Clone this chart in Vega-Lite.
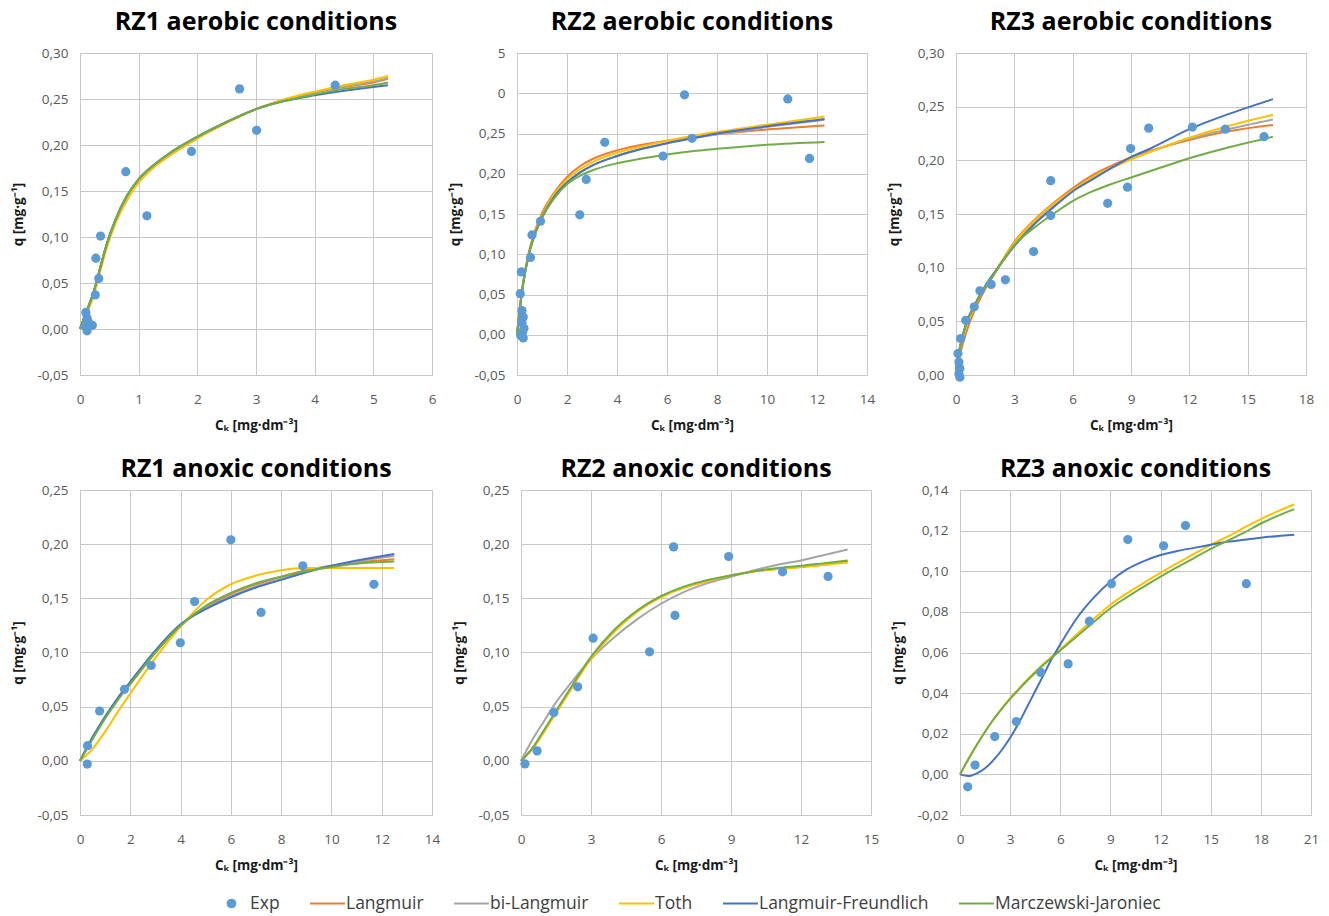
{
"$schema": "https://vega.github.io/schema/vega-lite/v6.json",
"padding": {"left": 10, "top": 9, "right": 5, "bottom": 2},
"background": "white",
"datasets": {
"A1": [
{"s":"Langmuir","x":0,"q":0},{"s":"Langmuir","x":0.1,"q":0.017},{"s":"Langmuir","x":0.25,"q":0.044},{"s":"Langmuir","x":0.35,"q":0.068},{"s":"Langmuir","x":0.45,"q":0.091},{"s":"Langmuir","x":0.6,"q":0.118},{"s":"Langmuir","x":0.8,"q":0.144},{"s":"Langmuir","x":1.0,"q":0.162},{"s":"Langmuir","x":1.25,"q":0.177},{"s":"Langmuir","x":1.5,"q":0.189},{"s":"Langmuir","x":2.0,"q":0.208},{"s":"Langmuir","x":2.5,"q":0.225},{"s":"Langmuir","x":3.0,"q":0.239},{"s":"Langmuir","x":3.5,"q":0.249},{"s":"Langmuir","x":4.0,"q":0.257},{"s":"Langmuir","x":4.5,"q":0.263},{"s":"Langmuir","x":5.0,"q":0.268},{"s":"Langmuir","x":5.25,"q":0.272},
{"s":"bi-Langmuir","x":0,"q":0},{"s":"bi-Langmuir","x":0.1,"q":0.017},{"s":"bi-Langmuir","x":0.25,"q":0.044},{"s":"bi-Langmuir","x":0.35,"q":0.068},{"s":"bi-Langmuir","x":0.45,"q":0.091},{"s":"bi-Langmuir","x":0.6,"q":0.118},{"s":"bi-Langmuir","x":0.8,"q":0.144},{"s":"bi-Langmuir","x":1.0,"q":0.162},{"s":"bi-Langmuir","x":1.25,"q":0.177},{"s":"bi-Langmuir","x":1.5,"q":0.189},{"s":"bi-Langmuir","x":2.0,"q":0.208},{"s":"bi-Langmuir","x":2.5,"q":0.225},{"s":"bi-Langmuir","x":3.0,"q":0.239},{"s":"bi-Langmuir","x":3.5,"q":0.249},{"s":"bi-Langmuir","x":4.0,"q":0.257},{"s":"bi-Langmuir","x":4.5,"q":0.264},{"s":"bi-Langmuir","x":5.0,"q":0.269},{"s":"bi-Langmuir","x":5.25,"q":0.273},
{"s":"Toth","x":0,"q":0},{"s":"Toth","x":0.1,"q":0.014},{"s":"Toth","x":0.25,"q":0.04},{"s":"Toth","x":0.35,"q":0.064},{"s":"Toth","x":0.45,"q":0.087},{"s":"Toth","x":0.6,"q":0.114},{"s":"Toth","x":0.8,"q":0.14},{"s":"Toth","x":1.0,"q":0.159},{"s":"Toth","x":1.25,"q":0.175},{"s":"Toth","x":1.5,"q":0.187},{"s":"Toth","x":2.0,"q":0.207},{"s":"Toth","x":2.5,"q":0.224},{"s":"Toth","x":3.0,"q":0.239},{"s":"Toth","x":3.5,"q":0.25},{"s":"Toth","x":4.0,"q":0.258},{"s":"Toth","x":4.5,"q":0.265},{"s":"Toth","x":5.0,"q":0.271},{"s":"Toth","x":5.25,"q":0.275},
{"s":"Langmuir-Freundlich","x":0,"q":0},{"s":"Langmuir-Freundlich","x":0.1,"q":0.017},{"s":"Langmuir-Freundlich","x":0.25,"q":0.044},{"s":"Langmuir-Freundlich","x":0.35,"q":0.068},{"s":"Langmuir-Freundlich","x":0.45,"q":0.091},{"s":"Langmuir-Freundlich","x":0.6,"q":0.118},{"s":"Langmuir-Freundlich","x":0.8,"q":0.145},{"s":"Langmuir-Freundlich","x":1.0,"q":0.163},{"s":"Langmuir-Freundlich","x":1.25,"q":0.178},{"s":"Langmuir-Freundlich","x":1.5,"q":0.19},{"s":"Langmuir-Freundlich","x":2.0,"q":0.209},{"s":"Langmuir-Freundlich","x":2.5,"q":0.225},{"s":"Langmuir-Freundlich","x":3.0,"q":0.239},{"s":"Langmuir-Freundlich","x":3.5,"q":0.248},{"s":"Langmuir-Freundlich","x":4.0,"q":0.254},{"s":"Langmuir-Freundlich","x":4.5,"q":0.259},{"s":"Langmuir-Freundlich","x":5.0,"q":0.263},{"s":"Langmuir-Freundlich","x":5.25,"q":0.265},
{"s":"Marczewski-Jaroniec","x":0,"q":0},{"s":"Marczewski-Jaroniec","x":0.1,"q":0.017},{"s":"Marczewski-Jaroniec","x":0.25,"q":0.044},{"s":"Marczewski-Jaroniec","x":0.35,"q":0.068},{"s":"Marczewski-Jaroniec","x":0.45,"q":0.091},{"s":"Marczewski-Jaroniec","x":0.6,"q":0.118},{"s":"Marczewski-Jaroniec","x":0.8,"q":0.145},{"s":"Marczewski-Jaroniec","x":1.0,"q":0.163},{"s":"Marczewski-Jaroniec","x":1.25,"q":0.178},{"s":"Marczewski-Jaroniec","x":1.5,"q":0.19},{"s":"Marczewski-Jaroniec","x":2.0,"q":0.209},{"s":"Marczewski-Jaroniec","x":2.5,"q":0.225},{"s":"Marczewski-Jaroniec","x":3.0,"q":0.239},{"s":"Marczewski-Jaroniec","x":3.5,"q":0.248},{"s":"Marczewski-Jaroniec","x":4.0,"q":0.255},{"s":"Marczewski-Jaroniec","x":4.5,"q":0.261},{"s":"Marczewski-Jaroniec","x":5.0,"q":0.265},{"s":"Marczewski-Jaroniec","x":5.25,"q":0.268},
{"s":"Exp","x":2.72,"q":0.261},{"s":"Exp","x":4.35,"q":0.265},{"s":"Exp","x":3.01,"q":0.216},{"s":"Exp","x":1.9,"q":0.193},{"s":"Exp","x":0.78,"q":0.171},{"s":"Exp","x":1.14,"q":0.123},{"s":"Exp","x":0.35,"q":0.101},{"s":"Exp","x":0.27,"q":0.077},{"s":"Exp","x":0.32,"q":0.055},{"s":"Exp","x":0.26,"q":0.037},{"s":"Exp","x":0.1,"q":0.018},{"s":"Exp","x":0.12,"q":0.012},{"s":"Exp","x":0.14,"q":0.008},{"s":"Exp","x":0.17,"q":0.004},{"s":"Exp","x":0.09,"q":0.003},{"s":"Exp","x":0.12,"q":-0.002},{"s":"Exp","x":0.21,"q":0.004}
],
"A2": [
{"s":"Langmuir","x":0,"q":0},{"s":"Langmuir","x":0.1,"q":0.03},{"s":"Langmuir","x":0.25,"q":0.066},{"s":"Langmuir","x":0.5,"q":0.106},{"s":"Langmuir","x":0.75,"q":0.132},{"s":"Langmuir","x":1,"q":0.151},{"s":"Langmuir","x":1.5,"q":0.177},{"s":"Langmuir","x":2,"q":0.196},{"s":"Langmuir","x":2.5,"q":0.209},{"s":"Langmuir","x":3,"q":0.218},{"s":"Langmuir","x":4,"q":0.229},{"s":"Langmuir","x":5,"q":0.236},{"s":"Langmuir","x":6,"q":0.241},{"s":"Langmuir","x":7,"q":0.245},{"s":"Langmuir","x":8,"q":0.249},{"s":"Langmuir","x":10,"q":0.255},{"s":"Langmuir","x":12.3,"q":0.26},
{"s":"bi-Langmuir","x":0,"q":0},{"s":"bi-Langmuir","x":0.1,"q":0.029},{"s":"bi-Langmuir","x":0.25,"q":0.064},{"s":"bi-Langmuir","x":0.5,"q":0.103},{"s":"bi-Langmuir","x":0.75,"q":0.128},{"s":"bi-Langmuir","x":1,"q":0.146},{"s":"bi-Langmuir","x":1.5,"q":0.172},{"s":"bi-Langmuir","x":2,"q":0.189},{"s":"bi-Langmuir","x":2.5,"q":0.201},{"s":"bi-Langmuir","x":3,"q":0.21},{"s":"bi-Langmuir","x":4,"q":0.222},{"s":"bi-Langmuir","x":5,"q":0.231},{"s":"bi-Langmuir","x":6,"q":0.238},{"s":"bi-Langmuir","x":7,"q":0.244},{"s":"bi-Langmuir","x":8,"q":0.249},{"s":"bi-Langmuir","x":10,"q":0.258},{"s":"bi-Langmuir","x":12.3,"q":0.267},
{"s":"Toth","x":0,"q":0},{"s":"Toth","x":0.1,"q":0.029},{"s":"Toth","x":0.25,"q":0.065},{"s":"Toth","x":0.5,"q":0.104},{"s":"Toth","x":0.75,"q":0.13},{"s":"Toth","x":1,"q":0.148},{"s":"Toth","x":1.5,"q":0.175},{"s":"Toth","x":2,"q":0.193},{"s":"Toth","x":2.5,"q":0.205},{"s":"Toth","x":3,"q":0.214},{"s":"Toth","x":4,"q":0.226},{"s":"Toth","x":5,"q":0.234},{"s":"Toth","x":6,"q":0.241},{"s":"Toth","x":7,"q":0.247},{"s":"Toth","x":8,"q":0.252},{"s":"Toth","x":10,"q":0.261},{"s":"Toth","x":12.3,"q":0.271},
{"s":"Langmuir-Freundlich","x":0,"q":0},{"s":"Langmuir-Freundlich","x":0.1,"q":0.029},{"s":"Langmuir-Freundlich","x":0.25,"q":0.064},{"s":"Langmuir-Freundlich","x":0.5,"q":0.103},{"s":"Langmuir-Freundlich","x":0.75,"q":0.128},{"s":"Langmuir-Freundlich","x":1,"q":0.146},{"s":"Langmuir-Freundlich","x":1.5,"q":0.172},{"s":"Langmuir-Freundlich","x":2,"q":0.189},{"s":"Langmuir-Freundlich","x":2.5,"q":0.201},{"s":"Langmuir-Freundlich","x":3,"q":0.21},{"s":"Langmuir-Freundlich","x":4,"q":0.222},{"s":"Langmuir-Freundlich","x":5,"q":0.231},{"s":"Langmuir-Freundlich","x":6,"q":0.238},{"s":"Langmuir-Freundlich","x":7,"q":0.244},{"s":"Langmuir-Freundlich","x":8,"q":0.25},{"s":"Langmuir-Freundlich","x":10,"q":0.259},{"s":"Langmuir-Freundlich","x":12.3,"q":0.268},
{"s":"Marczewski-Jaroniec","x":0,"q":0},{"s":"Marczewski-Jaroniec","x":0.1,"q":0.029},{"s":"Marczewski-Jaroniec","x":0.25,"q":0.064},{"s":"Marczewski-Jaroniec","x":0.5,"q":0.103},{"s":"Marczewski-Jaroniec","x":0.75,"q":0.127},{"s":"Marczewski-Jaroniec","x":1,"q":0.145},{"s":"Marczewski-Jaroniec","x":1.5,"q":0.17},{"s":"Marczewski-Jaroniec","x":2,"q":0.187},{"s":"Marczewski-Jaroniec","x":2.5,"q":0.197},{"s":"Marczewski-Jaroniec","x":3,"q":0.204},{"s":"Marczewski-Jaroniec","x":4,"q":0.213},{"s":"Marczewski-Jaroniec","x":5,"q":0.219},{"s":"Marczewski-Jaroniec","x":6,"q":0.224},{"s":"Marczewski-Jaroniec","x":7,"q":0.228},{"s":"Marczewski-Jaroniec","x":8,"q":0.231},{"s":"Marczewski-Jaroniec","x":10,"q":0.236},{"s":"Marczewski-Jaroniec","x":12.3,"q":0.2395},
{"s":"Exp","x":6.7,"q":0.298},{"s":"Exp","x":10.83,"q":0.293},{"s":"Exp","x":3.51,"q":0.239},{"s":"Exp","x":7.0,"q":0.244},{"s":"Exp","x":5.84,"q":0.222},{"s":"Exp","x":11.7,"q":0.219},{"s":"Exp","x":2.77,"q":0.193},{"s":"Exp","x":2.51,"q":0.149},{"s":"Exp","x":0.94,"q":0.141},{"s":"Exp","x":0.6,"q":0.124},{"s":"Exp","x":0.54,"q":0.096},{"s":"Exp","x":0.17,"q":0.078},{"s":"Exp","x":0.13,"q":0.051},{"s":"Exp","x":0.2,"q":0.03},{"s":"Exp","x":0.25,"q":0.022},{"s":"Exp","x":0.2,"q":0.015},{"s":"Exp","x":0.28,"q":0.008},{"s":"Exp","x":0.22,"q":0.003},{"s":"Exp","x":0.15,"q":-0.001},{"s":"Exp","x":0.25,"q":-0.004}
],
"A3": [
{"s":"Langmuir","x":0,"q":0},{"s":"Langmuir","x":0.1,"q":0.01},{"s":"Langmuir","x":0.25,"q":0.022},{"s":"Langmuir","x":0.5,"q":0.038},{"s":"Langmuir","x":1,"q":0.062},{"s":"Langmuir","x":1.5,"q":0.08},{"s":"Langmuir","x":2,"q":0.095},{"s":"Langmuir","x":3,"q":0.124},{"s":"Langmuir","x":4,"q":0.144},{"s":"Langmuir","x":5,"q":0.16},{"s":"Langmuir","x":6,"q":0.174},{"s":"Langmuir","x":7,"q":0.186},{"s":"Langmuir","x":8,"q":0.195},{"s":"Langmuir","x":9,"q":0.203},{"s":"Langmuir","x":10,"q":0.209},{"s":"Langmuir","x":12,"q":0.219},{"s":"Langmuir","x":14,"q":0.227},{"s":"Langmuir","x":16.3,"q":0.233},
{"s":"bi-Langmuir","x":0,"q":0.003},{"s":"bi-Langmuir","x":0.1,"q":0.015},{"s":"bi-Langmuir","x":0.25,"q":0.028},{"s":"bi-Langmuir","x":0.5,"q":0.045},{"s":"bi-Langmuir","x":1,"q":0.066},{"s":"bi-Langmuir","x":1.5,"q":0.082},{"s":"bi-Langmuir","x":2,"q":0.096},{"s":"bi-Langmuir","x":3,"q":0.122},{"s":"bi-Langmuir","x":4,"q":0.142},{"s":"bi-Langmuir","x":5,"q":0.158},{"s":"bi-Langmuir","x":6,"q":0.172},{"s":"bi-Langmuir","x":7,"q":0.184},{"s":"bi-Langmuir","x":8,"q":0.193},{"s":"bi-Langmuir","x":9,"q":0.201},{"s":"bi-Langmuir","x":10,"q":0.208},{"s":"bi-Langmuir","x":12,"q":0.22},{"s":"bi-Langmuir","x":14,"q":0.229},{"s":"bi-Langmuir","x":16.3,"q":0.238},
{"s":"Toth","x":0,"q":0.003},{"s":"Toth","x":0.1,"q":0.015},{"s":"Toth","x":0.25,"q":0.028},{"s":"Toth","x":0.5,"q":0.045},{"s":"Toth","x":1,"q":0.066},{"s":"Toth","x":1.5,"q":0.082},{"s":"Toth","x":2,"q":0.096},{"s":"Toth","x":3,"q":0.123},{"s":"Toth","x":4,"q":0.143},{"s":"Toth","x":5,"q":0.159},{"s":"Toth","x":6,"q":0.172},{"s":"Toth","x":7,"q":0.184},{"s":"Toth","x":8,"q":0.193},{"s":"Toth","x":9,"q":0.201},{"s":"Toth","x":10,"q":0.208},{"s":"Toth","x":12,"q":0.221},{"s":"Toth","x":14,"q":0.232},{"s":"Toth","x":16.3,"q":0.2425},
{"s":"Langmuir-Freundlich","x":0,"q":0.005},{"s":"Langmuir-Freundlich","x":0.1,"q":0.017},{"s":"Langmuir-Freundlich","x":0.25,"q":0.03},{"s":"Langmuir-Freundlich","x":0.5,"q":0.047},{"s":"Langmuir-Freundlich","x":1,"q":0.067},{"s":"Langmuir-Freundlich","x":1.5,"q":0.083},{"s":"Langmuir-Freundlich","x":2,"q":0.096},{"s":"Langmuir-Freundlich","x":3,"q":0.12},{"s":"Langmuir-Freundlich","x":4,"q":0.14},{"s":"Langmuir-Freundlich","x":5,"q":0.156},{"s":"Langmuir-Freundlich","x":6,"q":0.171},{"s":"Langmuir-Freundlich","x":7,"q":0.182},{"s":"Langmuir-Freundlich","x":8,"q":0.193},{"s":"Langmuir-Freundlich","x":9,"q":0.203},{"s":"Langmuir-Freundlich","x":10,"q":0.211},{"s":"Langmuir-Freundlich","x":12,"q":0.229},{"s":"Langmuir-Freundlich","x":14,"q":0.243},{"s":"Langmuir-Freundlich","x":16.3,"q":0.257},
{"s":"Marczewski-Jaroniec","x":0,"q":0.004},{"s":"Marczewski-Jaroniec","x":0.1,"q":0.016},{"s":"Marczewski-Jaroniec","x":0.25,"q":0.029},{"s":"Marczewski-Jaroniec","x":0.5,"q":0.046},{"s":"Marczewski-Jaroniec","x":1,"q":0.066},{"s":"Marczewski-Jaroniec","x":1.5,"q":0.082},{"s":"Marczewski-Jaroniec","x":2,"q":0.095},{"s":"Marczewski-Jaroniec","x":3,"q":0.121},{"s":"Marczewski-Jaroniec","x":4,"q":0.137},{"s":"Marczewski-Jaroniec","x":5,"q":0.15},{"s":"Marczewski-Jaroniec","x":6,"q":0.162},{"s":"Marczewski-Jaroniec","x":7,"q":0.171},{"s":"Marczewski-Jaroniec","x":8,"q":0.178},{"s":"Marczewski-Jaroniec","x":9,"q":0.184},{"s":"Marczewski-Jaroniec","x":10,"q":0.19},{"s":"Marczewski-Jaroniec","x":12,"q":0.202},{"s":"Marczewski-Jaroniec","x":14,"q":0.212},{"s":"Marczewski-Jaroniec","x":16.3,"q":0.222},
{"s":"Exp","x":9.91,"q":0.23},{"s":"Exp","x":12.16,"q":0.231},{"s":"Exp","x":13.85,"q":0.229},{"s":"Exp","x":15.84,"q":0.222},{"s":"Exp","x":8.98,"q":0.211},{"s":"Exp","x":8.82,"q":0.175},{"s":"Exp","x":7.8,"q":0.16},{"s":"Exp","x":4.87,"q":0.181},{"s":"Exp","x":4.87,"q":0.1485},{"s":"Exp","x":3.99,"q":0.115},{"s":"Exp","x":2.54,"q":0.0887},{"s":"Exp","x":1.81,"q":0.0844},{"s":"Exp","x":1.23,"q":0.0785},{"s":"Exp","x":0.94,"q":0.0635},{"s":"Exp","x":0.5,"q":0.051},{"s":"Exp","x":0.24,"q":0.034},{"s":"Exp","x":0.1,"q":0.02},{"s":"Exp","x":0.15,"q":0.012},{"s":"Exp","x":0.2,"q":0.006},{"s":"Exp","x":0.15,"q":0.001},{"s":"Exp","x":0.2,"q":-0.002}
],
"N1": [
{"s":"Langmuir","x":0,"q":0},{"s":"Langmuir","x":0.5,"q":0.021},{"s":"Langmuir","x":1,"q":0.04},{"s":"Langmuir","x":1.5,"q":0.057},{"s":"Langmuir","x":2,"q":0.071},{"s":"Langmuir","x":3,"q":0.1},{"s":"Langmuir","x":4,"q":0.125},{"s":"Langmuir","x":5,"q":0.142},{"s":"Langmuir","x":6,"q":0.154},{"s":"Langmuir","x":7,"q":0.163},{"s":"Langmuir","x":8,"q":0.17},{"s":"Langmuir","x":9,"q":0.176},{"s":"Langmuir","x":10,"q":0.18},{"s":"Langmuir","x":11,"q":0.183},{"s":"Langmuir","x":12.5,"q":0.186},
{"s":"bi-Langmuir","x":0,"q":0},{"s":"bi-Langmuir","x":0.5,"q":0.021},{"s":"bi-Langmuir","x":1,"q":0.04},{"s":"bi-Langmuir","x":1.5,"q":0.057},{"s":"bi-Langmuir","x":2,"q":0.072},{"s":"bi-Langmuir","x":3,"q":0.101},{"s":"bi-Langmuir","x":4,"q":0.125},{"s":"bi-Langmuir","x":5,"q":0.141},{"s":"bi-Langmuir","x":6,"q":0.152},{"s":"bi-Langmuir","x":7,"q":0.161},{"s":"bi-Langmuir","x":8,"q":0.168},{"s":"bi-Langmuir","x":9,"q":0.175},{"s":"bi-Langmuir","x":10,"q":0.18},{"s":"bi-Langmuir","x":11,"q":0.184},{"s":"bi-Langmuir","x":12.5,"q":0.189},
{"s":"Toth","x":0,"q":0},{"s":"Toth","x":0.5,"q":0.011},{"s":"Toth","x":1,"q":0.027},{"s":"Toth","x":1.5,"q":0.045},{"s":"Toth","x":2,"q":0.062},{"s":"Toth","x":3,"q":0.095},{"s":"Toth","x":4,"q":0.124},{"s":"Toth","x":5,"q":0.148},{"s":"Toth","x":6,"q":0.163},{"s":"Toth","x":7,"q":0.171},{"s":"Toth","x":8,"q":0.176},{"s":"Toth","x":9,"q":0.178},{"s":"Toth","x":10,"q":0.178},{"s":"Toth","x":11,"q":0.178},{"s":"Toth","x":12.5,"q":0.178},
{"s":"Langmuir-Freundlich","x":0,"q":0},{"s":"Langmuir-Freundlich","x":0.5,"q":0.022},{"s":"Langmuir-Freundlich","x":1,"q":0.041},{"s":"Langmuir-Freundlich","x":1.5,"q":0.058},{"s":"Langmuir-Freundlich","x":2,"q":0.073},{"s":"Langmuir-Freundlich","x":3,"q":0.102},{"s":"Langmuir-Freundlich","x":4,"q":0.126},{"s":"Langmuir-Freundlich","x":5,"q":0.14},{"s":"Langmuir-Freundlich","x":6,"q":0.151},{"s":"Langmuir-Freundlich","x":7,"q":0.16},{"s":"Langmuir-Freundlich","x":8,"q":0.167},{"s":"Langmuir-Freundlich","x":9,"q":0.174},{"s":"Langmuir-Freundlich","x":10,"q":0.18},{"s":"Langmuir-Freundlich","x":11,"q":0.185},{"s":"Langmuir-Freundlich","x":12.5,"q":0.191},
{"s":"Marczewski-Jaroniec","x":0,"q":0},{"s":"Marczewski-Jaroniec","x":0.5,"q":0.02},{"s":"Marczewski-Jaroniec","x":1,"q":0.039},{"s":"Marczewski-Jaroniec","x":1.5,"q":0.056},{"s":"Marczewski-Jaroniec","x":2,"q":0.071},{"s":"Marczewski-Jaroniec","x":3,"q":0.1},{"s":"Marczewski-Jaroniec","x":4,"q":0.125},{"s":"Marczewski-Jaroniec","x":5,"q":0.143},{"s":"Marczewski-Jaroniec","x":6,"q":0.155},{"s":"Marczewski-Jaroniec","x":7,"q":0.164},{"s":"Marczewski-Jaroniec","x":8,"q":0.17},{"s":"Marczewski-Jaroniec","x":9,"q":0.175},{"s":"Marczewski-Jaroniec","x":10,"q":0.179},{"s":"Marczewski-Jaroniec","x":11,"q":0.182},{"s":"Marczewski-Jaroniec","x":12.5,"q":0.184},
{"s":"Exp","x":6.0,"q":0.204},{"s":"Exp","x":8.86,"q":0.18},{"s":"Exp","x":11.69,"q":0.163},{"s":"Exp","x":4.56,"q":0.147},{"s":"Exp","x":7.2,"q":0.137},{"s":"Exp","x":3.99,"q":0.109},{"s":"Exp","x":2.83,"q":0.088},{"s":"Exp","x":1.77,"q":0.066},{"s":"Exp","x":0.78,"q":0.046},{"s":"Exp","x":0.3,"q":0.014},{"s":"Exp","x":0.29,"q":-0.003}
],
"N2": [
{"s":"Langmuir","x":0,"q":0},{"s":"Langmuir","x":0.5,"q":0.012},{"s":"Langmuir","x":1,"q":0.028},{"s":"Langmuir","x":1.5,"q":0.045},{"s":"Langmuir","x":2,"q":0.062},{"s":"Langmuir","x":3,"q":0.095},{"s":"Langmuir","x":4,"q":0.12},{"s":"Langmuir","x":5,"q":0.139},{"s":"Langmuir","x":6,"q":0.152},{"s":"Langmuir","x":7,"q":0.16},{"s":"Langmuir","x":8,"q":0.166},{"s":"Langmuir","x":9,"q":0.171},{"s":"Langmuir","x":10,"q":0.175},{"s":"Langmuir","x":11,"q":0.177},{"s":"Langmuir","x":12,"q":0.179},{"s":"Langmuir","x":13,"q":0.181},{"s":"Langmuir","x":14,"q":0.184},
{"s":"bi-Langmuir","x":0,"q":0},{"s":"bi-Langmuir","x":0.5,"q":0.02},{"s":"bi-Langmuir","x":1,"q":0.037},{"s":"bi-Langmuir","x":1.5,"q":0.054},{"s":"bi-Langmuir","x":2,"q":0.068},{"s":"bi-Langmuir","x":3,"q":0.094},{"s":"bi-Langmuir","x":4,"q":0.114},{"s":"bi-Langmuir","x":5,"q":0.131},{"s":"bi-Langmuir","x":6,"q":0.145},{"s":"bi-Langmuir","x":7,"q":0.156},{"s":"bi-Langmuir","x":8,"q":0.164},{"s":"bi-Langmuir","x":9,"q":0.17},{"s":"bi-Langmuir","x":10,"q":0.176},{"s":"bi-Langmuir","x":11,"q":0.181},{"s":"bi-Langmuir","x":12,"q":0.185},{"s":"bi-Langmuir","x":13,"q":0.19},{"s":"bi-Langmuir","x":14,"q":0.195},
{"s":"Toth","x":0,"q":0},{"s":"Toth","x":0.5,"q":0.011},{"s":"Toth","x":1,"q":0.027},{"s":"Toth","x":1.5,"q":0.044},{"s":"Toth","x":2,"q":0.061},{"s":"Toth","x":3,"q":0.094},{"s":"Toth","x":4,"q":0.119},{"s":"Toth","x":5,"q":0.138},{"s":"Toth","x":6,"q":0.151},{"s":"Toth","x":7,"q":0.16},{"s":"Toth","x":8,"q":0.166},{"s":"Toth","x":9,"q":0.171},{"s":"Toth","x":10,"q":0.175},{"s":"Toth","x":11,"q":0.177},{"s":"Toth","x":12,"q":0.179},{"s":"Toth","x":13,"q":0.181},{"s":"Toth","x":14,"q":0.183},
{"s":"Marczewski-Jaroniec","x":0,"q":0},{"s":"Marczewski-Jaroniec","x":0.5,"q":0.012},{"s":"Marczewski-Jaroniec","x":1,"q":0.029},{"s":"Marczewski-Jaroniec","x":1.5,"q":0.046},{"s":"Marczewski-Jaroniec","x":2,"q":0.063},{"s":"Marczewski-Jaroniec","x":3,"q":0.096},{"s":"Marczewski-Jaroniec","x":4,"q":0.121},{"s":"Marczewski-Jaroniec","x":5,"q":0.139},{"s":"Marczewski-Jaroniec","x":6,"q":0.152},{"s":"Marczewski-Jaroniec","x":7,"q":0.161},{"s":"Marczewski-Jaroniec","x":8,"q":0.167},{"s":"Marczewski-Jaroniec","x":9,"q":0.171},{"s":"Marczewski-Jaroniec","x":10,"q":0.175},{"s":"Marczewski-Jaroniec","x":11,"q":0.178},{"s":"Marczewski-Jaroniec","x":12,"q":0.18},{"s":"Marczewski-Jaroniec","x":13,"q":0.1825},{"s":"Marczewski-Jaroniec","x":14,"q":0.185},
{"s":"Exp","x":6.54,"q":0.1975},{"s":"Exp","x":8.9,"q":0.1886},{"s":"Exp","x":11.21,"q":0.1745},{"s":"Exp","x":13.16,"q":0.1702},{"s":"Exp","x":6.6,"q":0.1342},{"s":"Exp","x":5.51,"q":0.1006},{"s":"Exp","x":3.09,"q":0.1132},{"s":"Exp","x":2.43,"q":0.0683},{"s":"Exp","x":1.41,"q":0.0446},{"s":"Exp","x":0.69,"q":0.0092},{"s":"Exp","x":0.17,"q":-0.0028}
],
"N3": [
{"s":"Toth","x":0,"q":0},{"s":"Toth","x":0.5,"q":0.0075},{"s":"Toth","x":1,"q":0.0145},{"s":"Toth","x":1.5,"q":0.021},{"s":"Toth","x":2,"q":0.027},{"s":"Toth","x":2.5,"q":0.0325},{"s":"Toth","x":3,"q":0.0375},{"s":"Toth","x":3.5,"q":0.042},{"s":"Toth","x":4,"q":0.0465},{"s":"Toth","x":4.5,"q":0.0505},{"s":"Toth","x":5,"q":0.0545},{"s":"Toth","x":5.5,"q":0.058},{"s":"Toth","x":6,"q":0.0615},{"s":"Toth","x":7,"q":0.069},{"s":"Toth","x":8,"q":0.0765},{"s":"Toth","x":9,"q":0.0835},{"s":"Toth","x":10,"q":0.0892},{"s":"Toth","x":11,"q":0.0943},{"s":"Toth","x":12,"q":0.0992},{"s":"Toth","x":13,"q":0.104},{"s":"Toth","x":14,"q":0.1085},{"s":"Toth","x":15,"q":0.113},{"s":"Toth","x":16,"q":0.117},{"s":"Toth","x":17,"q":0.1215},{"s":"Toth","x":18,"q":0.1257},{"s":"Toth","x":20,"q":0.133},
{"s":"Langmuir-Freundlich","x":0,"q":0},{"s":"Langmuir-Freundlich","x":0.5,"q":-0.0008},{"s":"Langmuir-Freundlich","x":1,"q":0.0005},{"s":"Langmuir-Freundlich","x":1.5,"q":0.003},{"s":"Langmuir-Freundlich","x":2,"q":0.007},{"s":"Langmuir-Freundlich","x":2.5,"q":0.012},{"s":"Langmuir-Freundlich","x":3,"q":0.018},{"s":"Langmuir-Freundlich","x":3.5,"q":0.025},{"s":"Langmuir-Freundlich","x":4,"q":0.033},{"s":"Langmuir-Freundlich","x":4.5,"q":0.041},{"s":"Langmuir-Freundlich","x":5,"q":0.049},{"s":"Langmuir-Freundlich","x":5.5,"q":0.057},{"s":"Langmuir-Freundlich","x":6,"q":0.064},{"s":"Langmuir-Freundlich","x":7,"q":0.077},{"s":"Langmuir-Freundlich","x":8,"q":0.087},{"s":"Langmuir-Freundlich","x":9,"q":0.095},{"s":"Langmuir-Freundlich","x":10,"q":0.101},{"s":"Langmuir-Freundlich","x":11,"q":0.105},{"s":"Langmuir-Freundlich","x":12,"q":0.108},{"s":"Langmuir-Freundlich","x":13,"q":0.11},{"s":"Langmuir-Freundlich","x":14,"q":0.1115},{"s":"Langmuir-Freundlich","x":15,"q":0.113},{"s":"Langmuir-Freundlich","x":16,"q":0.1145},{"s":"Langmuir-Freundlich","x":17,"q":0.1155},{"s":"Langmuir-Freundlich","x":18,"q":0.1165},{"s":"Langmuir-Freundlich","x":20,"q":0.118},
{"s":"Marczewski-Jaroniec","x":0,"q":0},{"s":"Marczewski-Jaroniec","x":0.5,"q":0.0075},{"s":"Marczewski-Jaroniec","x":1,"q":0.0145},{"s":"Marczewski-Jaroniec","x":1.5,"q":0.021},{"s":"Marczewski-Jaroniec","x":2,"q":0.027},{"s":"Marczewski-Jaroniec","x":2.5,"q":0.0323},{"s":"Marczewski-Jaroniec","x":3,"q":0.0372},{"s":"Marczewski-Jaroniec","x":3.5,"q":0.0416},{"s":"Marczewski-Jaroniec","x":4,"q":0.046},{"s":"Marczewski-Jaroniec","x":4.5,"q":0.05},{"s":"Marczewski-Jaroniec","x":5,"q":0.054},{"s":"Marczewski-Jaroniec","x":5.5,"q":0.0575},{"s":"Marczewski-Jaroniec","x":6,"q":0.061},{"s":"Marczewski-Jaroniec","x":7,"q":0.068},{"s":"Marczewski-Jaroniec","x":8,"q":0.075},{"s":"Marczewski-Jaroniec","x":9,"q":0.0818},{"s":"Marczewski-Jaroniec","x":10,"q":0.0873},{"s":"Marczewski-Jaroniec","x":11,"q":0.0924},{"s":"Marczewski-Jaroniec","x":12,"q":0.0973},{"s":"Marczewski-Jaroniec","x":13,"q":0.102},{"s":"Marczewski-Jaroniec","x":14,"q":0.1065},{"s":"Marczewski-Jaroniec","x":15,"q":0.111},{"s":"Marczewski-Jaroniec","x":16,"q":0.115},{"s":"Marczewski-Jaroniec","x":17,"q":0.119},{"s":"Marczewski-Jaroniec","x":18,"q":0.1235},{"s":"Marczewski-Jaroniec","x":20,"q":0.1306},
{"s":"Exp","x":13.49,"q":0.1225},{"s":"Exp","x":10.04,"q":0.1156},{"s":"Exp","x":12.18,"q":0.1125},{"s":"Exp","x":17.13,"q":0.0939},{"s":"Exp","x":9.06,"q":0.0939},{"s":"Exp","x":7.74,"q":0.0754},{"s":"Exp","x":6.47,"q":0.0544},{"s":"Exp","x":4.83,"q":0.0502},{"s":"Exp","x":3.37,"q":0.026},{"s":"Exp","x":2.08,"q":0.0186},{"s":"Exp","x":0.9,"q":0.0046},{"s":"Exp","x":0.46,"q":-0.0061}
]
},
"vconcat": [
{"hconcat": [
{"title": {"text": "RZ1 aerobic conditions", "offset": 11}, "width": 352, "height": 322, "data": {"name": "A1"},
 "layer": [
  {"transform": [{"filter": "datum.s !== 'Exp'"}], "mark": {"type": "line", "strokeWidth": 2, "interpolate": "monotone"},
   "encoding": {
    "x": {"field": "x", "type": "quantitative", "scale": {"domain": [0, 6], "nice": false, "zero": false}, "axis": {"title": "Cₖ [mg·dm⁻³]", "values": [0,1,2,3,4,5,6]}},
    "y": {"field": "q", "type": "quantitative", "scale": {"domain": [-0.05, 0.3], "nice": false, "zero": false}, "axis": {"title": "q [mg·g⁻¹]", "values": [-0.05,0,0.05,0.1,0.15,0.2,0.25,0.3], "labelExpr": "(datum.value < 0 ? '-' : '') + replace(format(abs(datum.value), '.2f'), '.', ',')"}},
    "color": {"field": "s", "type": "nominal", "scale": {"domain": ["Exp","Langmuir","bi-Langmuir","Toth","Langmuir-Freundlich","Marczewski-Jaroniec"], "range": ["#5B9BD5","#ED7D31","#A5A5A5","#FFC000","#4472C4","#70AD47"]},
      "legend": {"title": null, "orient": "none", "legendX": 133, "legendY": 832, "encode": {"symbols": {"update": {"shape": {"signal": "datum.value === 'Exp' ? 'circle' : 'stroke'"}, "size": {"signal": "datum.value === 'Exp' ? 60 : 1225"}, "fill": {"signal": "datum.value === 'Exp' ? scale('color', datum.value) : 'transparent'"}, "stroke": {"signal": "datum.value === 'Exp' ? 'transparent' : scale('color', datum.value)"}, "strokeWidth": {"value": 2}, "opacity": {"value": 1}}}}}}
   }},
  {"transform": [{"filter": "datum.s === 'Exp'"}], "mark": {"type": "point", "filled": true, "size": 85, "opacity": 1},
   "encoding": {"x": {"field": "x", "type": "quantitative"}, "y": {"field": "q", "type": "quantitative"}, "color": {"field": "s", "type": "nominal"}}}
 ]},
{"title": {"text": "RZ2 aerobic conditions", "offset": 11}, "width": 350, "height": 322, "data": {"name": "A2"},
 "layer": [
  {"transform": [{"filter": "datum.s !== 'Exp'"}], "mark": {"type": "line", "strokeWidth": 2, "interpolate": "monotone"},
   "encoding": {
    "x": {"field": "x", "type": "quantitative", "scale": {"domain": [0, 14], "nice": false, "zero": false}, "axis": {"title": "Cₖ [mg·dm⁻³]", "values": [0,2,4,6,8,10,12,14]}},
    "y": {"field": "q", "type": "quantitative", "scale": {"domain": [-0.05, 0.35], "nice": false, "zero": false}, "axis": {"title": "q [mg·g⁻¹]", "values": [-0.05,0,0.05,0.1,0.15,0.2,0.25,0.3,0.35], "labelExpr": "datum.value > 0.34 ? '5' : datum.value > 0.29 ? '0' : (datum.value < 0 ? '-' : '') + replace(format(abs(datum.value), '.2f'), '.', ',')"}},
    "color": {"field": "s", "type": "nominal"}
   }},
  {"transform": [{"filter": "datum.s === 'Exp'"}], "mark": {"type": "point", "filled": true, "size": 85, "opacity": 1},
   "encoding": {"x": {"field": "x", "type": "quantitative"}, "y": {"field": "q", "type": "quantitative"}, "color": {"field": "s", "type": "nominal"}}}
 ]},
{"title": {"text": "RZ3 aerobic conditions", "offset": 11}, "width": 350, "height": 322, "data": {"name": "A3"},
 "layer": [
  {"transform": [{"filter": "datum.s !== 'Exp'"}], "mark": {"type": "line", "strokeWidth": 2, "interpolate": "monotone"},
   "encoding": {
    "x": {"field": "x", "type": "quantitative", "scale": {"domain": [0, 18], "nice": false, "zero": false}, "axis": {"title": "Cₖ [mg·dm⁻³]", "values": [0,3,6,9,12,15,18]}},
    "y": {"field": "q", "type": "quantitative", "scale": {"domain": [0, 0.3], "nice": false, "zero": false}, "axis": {"title": "q [mg·g⁻¹]", "values": [0,0.05,0.1,0.15,0.2,0.25,0.3], "labelExpr": "(datum.value < 0 ? '-' : '') + replace(format(abs(datum.value), '.2f'), '.', ',')"}},
    "color": {"field": "s", "type": "nominal"}
   }},
  {"transform": [{"filter": "datum.s === 'Exp'"}], "mark": {"type": "point", "filled": true, "size": 85, "opacity": 1},
   "encoding": {"x": {"field": "x", "type": "quantitative"}, "y": {"field": "q", "type": "quantitative"}, "color": {"field": "s", "type": "nominal"}}}
 ]}
], "spacing": 10},
{"hconcat": [
{"title": {"text": "RZ1 anoxic conditions", "offset": 1}, "width": 352, "height": 325, "data": {"name": "N1"},
 "layer": [
  {"transform": [{"filter": "datum.s !== 'Exp'"}], "mark": {"type": "line", "strokeWidth": 2, "interpolate": "monotone"},
   "encoding": {
    "x": {"field": "x", "type": "quantitative", "scale": {"domain": [0, 14], "nice": false, "zero": false}, "axis": {"title": "Cₖ [mg·dm⁻³]", "values": [0,2,4,6,8,10,12,14]}},
    "y": {"field": "q", "type": "quantitative", "scale": {"domain": [-0.05, 0.25], "nice": false, "zero": false}, "axis": {"title": "q [mg·g⁻¹]", "values": [-0.05,0,0.05,0.1,0.15,0.2,0.25], "labelExpr": "(datum.value < 0 ? '-' : '') + replace(format(abs(datum.value), '.2f'), '.', ',')"}},
    "color": {"field": "s", "type": "nominal"}
   }},
  {"transform": [{"filter": "datum.s === 'Exp'"}], "mark": {"type": "point", "filled": true, "size": 85, "opacity": 1},
   "encoding": {"x": {"field": "x", "type": "quantitative"}, "y": {"field": "q", "type": "quantitative"}, "color": {"field": "s", "type": "nominal"}}}
 ]},
{"title": {"text": "RZ2 anoxic conditions", "offset": 1}, "width": 350, "height": 325, "data": {"name": "N2"},
 "layer": [
  {"transform": [{"filter": "datum.s !== 'Exp'"}], "mark": {"type": "line", "strokeWidth": 2, "interpolate": "monotone"},
   "encoding": {
    "x": {"field": "x", "type": "quantitative", "scale": {"domain": [0, 15], "nice": false, "zero": false}, "axis": {"title": "Cₖ [mg·dm⁻³]", "values": [0,3,6,9,12,15]}},
    "y": {"field": "q", "type": "quantitative", "scale": {"domain": [-0.05, 0.25], "nice": false, "zero": false}, "axis": {"title": "q [mg·g⁻¹]", "values": [-0.05,0,0.05,0.1,0.15,0.2,0.25], "labelExpr": "(datum.value < 0 ? '-' : '') + replace(format(abs(datum.value), '.2f'), '.', ',')"}},
    "color": {"field": "s", "type": "nominal"}
   }},
  {"transform": [{"filter": "datum.s === 'Exp'"}], "mark": {"type": "point", "filled": true, "size": 85, "opacity": 1},
   "encoding": {"x": {"field": "x", "type": "quantitative"}, "y": {"field": "q", "type": "quantitative"}, "color": {"field": "s", "type": "nominal"}}}
 ]},
{"title": {"text": "RZ3 anoxic conditions", "offset": 1}, "width": 351, "height": 325, "data": {"name": "N3"},
 "layer": [
  {"transform": [{"filter": "datum.s !== 'Exp'"}], "mark": {"type": "line", "strokeWidth": 2, "interpolate": "monotone"},
   "encoding": {
    "x": {"field": "x", "type": "quantitative", "scale": {"domain": [0, 21], "nice": false, "zero": false}, "axis": {"title": "Cₖ [mg·dm⁻³]", "values": [0,3,6,9,12,15,18,21]}},
    "y": {"field": "q", "type": "quantitative", "scale": {"domain": [-0.02, 0.14], "nice": false, "zero": false}, "axis": {"title": "q [mg·g⁻¹]", "values": [-0.02,0,0.02,0.04,0.06,0.08,0.1,0.12,0.14], "labelExpr": "(datum.value < 0 ? '-' : '') + replace(format(abs(datum.value), '.2f'), '.', ',')"}},
    "color": {"field": "s", "type": "nominal"}
   }},
  {"transform": [{"filter": "datum.s === 'Exp'"}], "mark": {"type": "point", "filled": true, "size": 85, "opacity": 1},
   "encoding": {"x": {"field": "x", "type": "quantitative"}, "y": {"field": "q", "type": "quantitative"}, "color": {"field": "s", "type": "nominal"}}}
 ]}
], "spacing": 10}
],
"spacing": 24,
"config": {
 "font": "Open Sans",
 "view": {"stroke": "#c8c8c8", "strokeWidth": 1},
 "axis": {"grid": true, "gridColor": "#c8c8c8", "gridWidth": 1, "domainColor": "#c8c8c8", "ticks": false, "labelFont": "Open Sans", "labelFontSize": 13.5, "labelColor": "#595959", "labelFlush": false, "labelOverlap": false, "titleFont": "Open Sans", "titleFontSize": 13.5, "titleFontWeight": "bold", "titleColor": "#1a1a1a"},
 "axisX": {"format": "d", "labelPadding": 17, "titlePadding": 11, "minExtent": 32, "maxExtent": 32},
 "axisY": {"labelPadding": 12, "titlePadding": 9, "minExtent": 46, "maxExtent": 46},
 "title": {"font": "Open Sans", "fontSize": 25, "fontWeight": "bold", "color": "#000000", "anchor": "middle", "frame": "group", "baseline": "alphabetic"},
 "legend": {"direction": "horizontal", "labelFont": "Open Sans", "labelFontSize": 17.5, "labelColor": "#404040", "labelLimit": 500, "symbolSize": 1225, "symbolStrokeWidth": 2, "columnPadding": 26, "labelOffset": 0}
}
}
